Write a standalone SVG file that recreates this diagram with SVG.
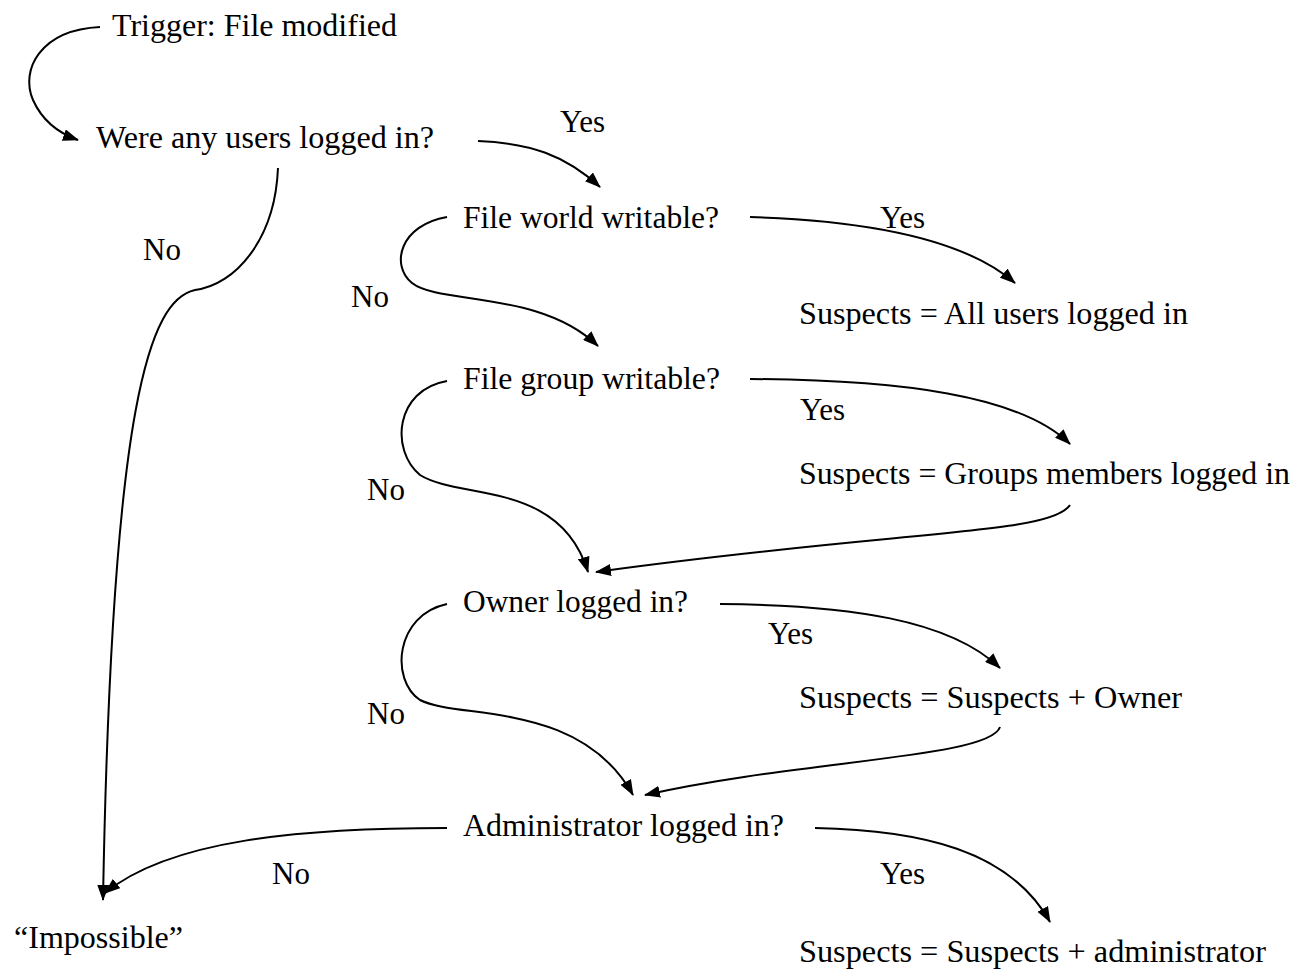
<svg xmlns="http://www.w3.org/2000/svg" width="1297" height="974" viewBox="0 0 1297 974">
<style>
text{font-family:"Liberation Serif","Times New Roman",serif;font-size:31px;fill:#000}
.c{fill:none;stroke:#000;stroke-width:2}
</style>
<defs>
<marker id="ah" viewBox="0 0 16 12" refX="15" refY="6" markerWidth="16" markerHeight="12" markerUnits="userSpaceOnUse" orient="auto">
<path d="M0,0 L16,6 L0,12 Z" fill="#000"/>
</marker>
</defs>
<rect width="1297" height="974" fill="#fff"/>
<g id="connectors">
<path class="c" marker-end="url(#ah)" d="M100,27 C40,30 20,70 33,100 C42,120 58,133 78,140"/>
<path class="c" marker-end="url(#ah)" d="M478,141 C530,143 565,155 600,187"/>
<path class="c" marker-end="url(#ah)" d="M278,168 C275,240 235,285 195,290 C150,300 112,400 103,900"/>
<path class="c" marker-end="url(#ah)" d="M750,217 C850,220 960,235 1015,283"/>
<path class="c" marker-end="url(#ah)" d="M447,217 C400,225 390,265 412,283 C440,305 540,290 598,346"/>
<path class="c" marker-end="url(#ah)" d="M750,379 C900,380 1020,395 1070,444"/>
<path class="c" marker-end="url(#ah)" d="M447,381 C395,390 390,450 420,475 C460,500 560,480 588,572"/>
<path class="c" marker-end="url(#ah)" d="M1070,505 C1050,535 900,530 596,572"/>
<path class="c" marker-end="url(#ah)" d="M720,604 C850,605 950,620 1000,668"/>
<path class="c" marker-end="url(#ah)" d="M447,604 C395,615 390,680 420,700 C460,720 580,700 633,795"/>
<path class="c" marker-end="url(#ah)" d="M1000,727 C990,758 800,760 645,795"/>
<path class="c" marker-end="url(#ah)" d="M447,828 C300,828 170,840 105,893"/>
<path class="c" marker-end="url(#ah)" d="M815,828 C920,830 1010,850 1050,922"/>
</g>
<g id="n-trigger"><text x="112" y="36" textLength="285" lengthAdjust="spacingAndGlyphs">Trigger: File modified</text></g>
<g id="n-users"><text x="96" y="148" textLength="338" lengthAdjust="spacingAndGlyphs">Were any users logged in?</text></g>
<g id="n-world"><text x="463" y="228" textLength="256" lengthAdjust="spacingAndGlyphs">File world writable?</text></g>
<g id="n-all"><text x="799" y="324" textLength="389" lengthAdjust="spacingAndGlyphs">Suspects = All users logged in</text></g>
<g id="n-group"><text x="463" y="389" textLength="257" lengthAdjust="spacingAndGlyphs">File group writable?</text></g>
<g id="n-groups"><text x="799" y="484" textLength="491" lengthAdjust="spacingAndGlyphs">Suspects = Groups members logged in</text></g>
<g id="n-owner"><text x="463" y="612" textLength="225" lengthAdjust="spacingAndGlyphs">Owner logged in?</text></g>
<g id="n-sowner"><text x="799" y="708" textLength="383" lengthAdjust="spacingAndGlyphs">Suspects = Suspects + Owner</text></g>
<g id="n-admin"><text x="463" y="836" textLength="321" lengthAdjust="spacingAndGlyphs">Administrator logged in?</text></g>
<g id="n-impossible"><text x="14" y="948" textLength="169" lengthAdjust="spacingAndGlyphs">“Impossible”</text></g>
<g id="n-sadmin"><text x="799" y="962" textLength="467" lengthAdjust="spacingAndGlyphs">Suspects = Suspects + administrator</text></g>
<g id="labels">
<text x="560" y="132">Yes</text>
<text x="143" y="260">No</text>
<text x="880" y="228">Yes</text>
<text x="351" y="307">No</text>
<text x="800" y="420">Yes</text>
<text x="367" y="500">No</text>
<text x="768" y="644">Yes</text>
<text x="367" y="724">No</text>
<text x="272" y="884">No</text>
<text x="880" y="884">Yes</text>
</g>
</svg>
